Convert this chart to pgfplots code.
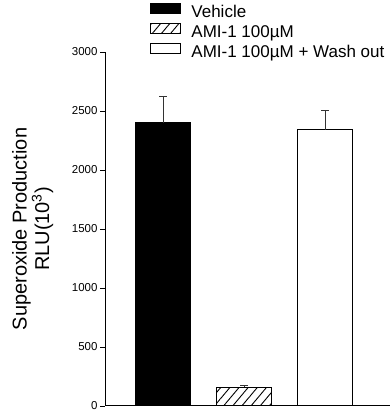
\documentclass[border=0pt]{standalone}
\usepackage{fontspec}
\setmainfont{Liberation Sans}
\usepackage{pgfplots}
\pgfplotsset{compat=1.18}
\usetikzlibrary{patterns.meta}

\begin{document}
\begin{tikzpicture}
\useasboundingbox (0,0) rectangle (390pt,411pt);
\begin{axis}[
  at={(105pt,5pt)}, anchor=south west,
  scale only axis, width=285pt, height=354pt,
  xmin=-0.72, xmax=2.8, ymin=0, ymax=3000,
  axis x line=bottom, axis y line=left,
  axis line style={-, line width=1pt, black},
  xtick=\empty, ytick={0,500,...,3000},
  tick align=outside, major tick length=5pt,
  tick style={line width=0.8pt, black},
  /pgf/number format/1000 sep={},
  /pgf/number format/assume math mode=true,
  tick label style={font=\fontsize{11.5}{13}\selectfont},
  yticklabel style={xshift=1pt},
  ylabel={Superoxide Production\\RLU(10\textsuperscript{3})},
  ylabel style={at={(axis description cs:-0.254,0.5)}, rotate=0, anchor=center,
    align=center, font=\fontsize{20}{22.5}\selectfont},
  ybar, bar width=55pt, bar shift=0pt,
  legend image code/.code={\draw[#1] (0pt,-1pt) rectangle (30pt,9pt);},
  legend style={at={(0.158,1.139)}, anchor=north west, draw=none, fill=none,
    inner sep=0pt, font=\fontsize{17}{19}\selectfont, row sep=1.5pt,
    /tikz/every odd column/.append style={column sep=8pt}},
  legend cell align=left,
  error bars/y dir=plus, error bars/y explicit,
  error bars/error bar style={line width=1pt, black!80},
  error bars/error mark options={rotate=90, mark size=4pt, line width=1pt, black!80},
]
% Vehicle
\addplot[fill=black, draw=black, line width=1.2pt]
  coordinates {(0,2400) +- (0,220)};
% AMI-1 treated
\addplot[pattern={Lines[angle=50, distance=7pt, line width=0.9pt]}, draw=black, line width=1.2pt]
  coordinates {(1,160) +- (0,10)};
% AMI-1 followed by wash out
\addplot[fill=white, draw=black, line width=1.2pt]
  coordinates {(2,2340) +- (0,160)};
\legend{Vehicle, AMI-1 100µM, AMI-1 100µM + Wash out}
\end{axis}
\end{tikzpicture}
\end{document}
